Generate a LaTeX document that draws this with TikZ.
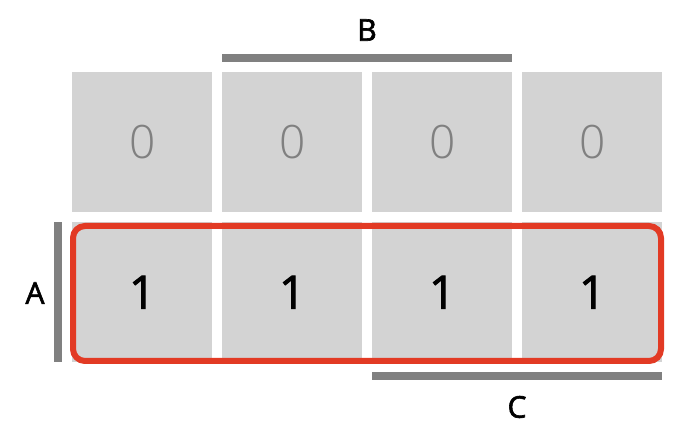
\documentclass[tikz,border=0pt]{standalone}
\usepackage{fontspec}
\setmainfont{Open Sans}
\newfontfamily\semifont[FakeBold=2]{Open Sans}
\newfontfamily\lightfont{Open Sans Light}
\definecolor{cellgray}{RGB}{211,211,211}
\definecolor{bargray}{RGB}{128,128,128}
\definecolor{zerogray}{RGB}{128,128,128}
\definecolor{groupred}{RGB}{226,58,36}
\begin{document}
\begin{tikzpicture}[x=1pt,y=-1pt,
  cell/.style={fill=cellgray, minimum width=140pt, minimum height=140pt, inner sep=0pt, anchor=north west},
  zero/.style={text=zerogray, font=\lightfont\fontsize{46}{50}\selectfont},
  one/.style={text=black, font=\semifont\fontsize{46}{50}\selectfont},
  bar/.style={fill=bargray, inner sep=0pt},
  lab/.style={font=\semifont\fontsize{30}{34}\selectfont, text=black, inner sep=0pt},
  group/.style={draw=groupred, line width=6pt, rounded corners=12pt}]
\useasboundingbox (0,0) rectangle (696,435);
% top row
\node[cell,zero] (c00) at (72,72) {0};
\node[cell,zero] (c01) at (222,72) {0};
\node[cell,zero] (c02) at (372,72) {0};
\node[cell,zero] (c03) at (522,72) {0};
% bottom row
\node[cell,one] (c10) at (72,222) {1};
\node[cell,one] (c11) at (222,222) {1};
\node[cell,one] (c12) at (372,222) {1};
\node[cell,one] (c13) at (522,222) {1};
% bars
\node[bar, minimum width=290pt, minimum height=8pt] (barB) at (367,58) {};
\node[bar, minimum width=8pt, minimum height=140pt] (barA) at (58,292) {};
\node[bar, minimum width=290pt, minimum height=8pt] (barC) at (517,376) {};
% labels
\node[lab] (labB) at (367,30) {B};
\node[lab] (labA) at (35,293) {A};
\node[lab] (labC) at (517,407) {C};
% group
\draw[group] (73,226) rectangle (661,361);
\end{tikzpicture}
\end{document}
